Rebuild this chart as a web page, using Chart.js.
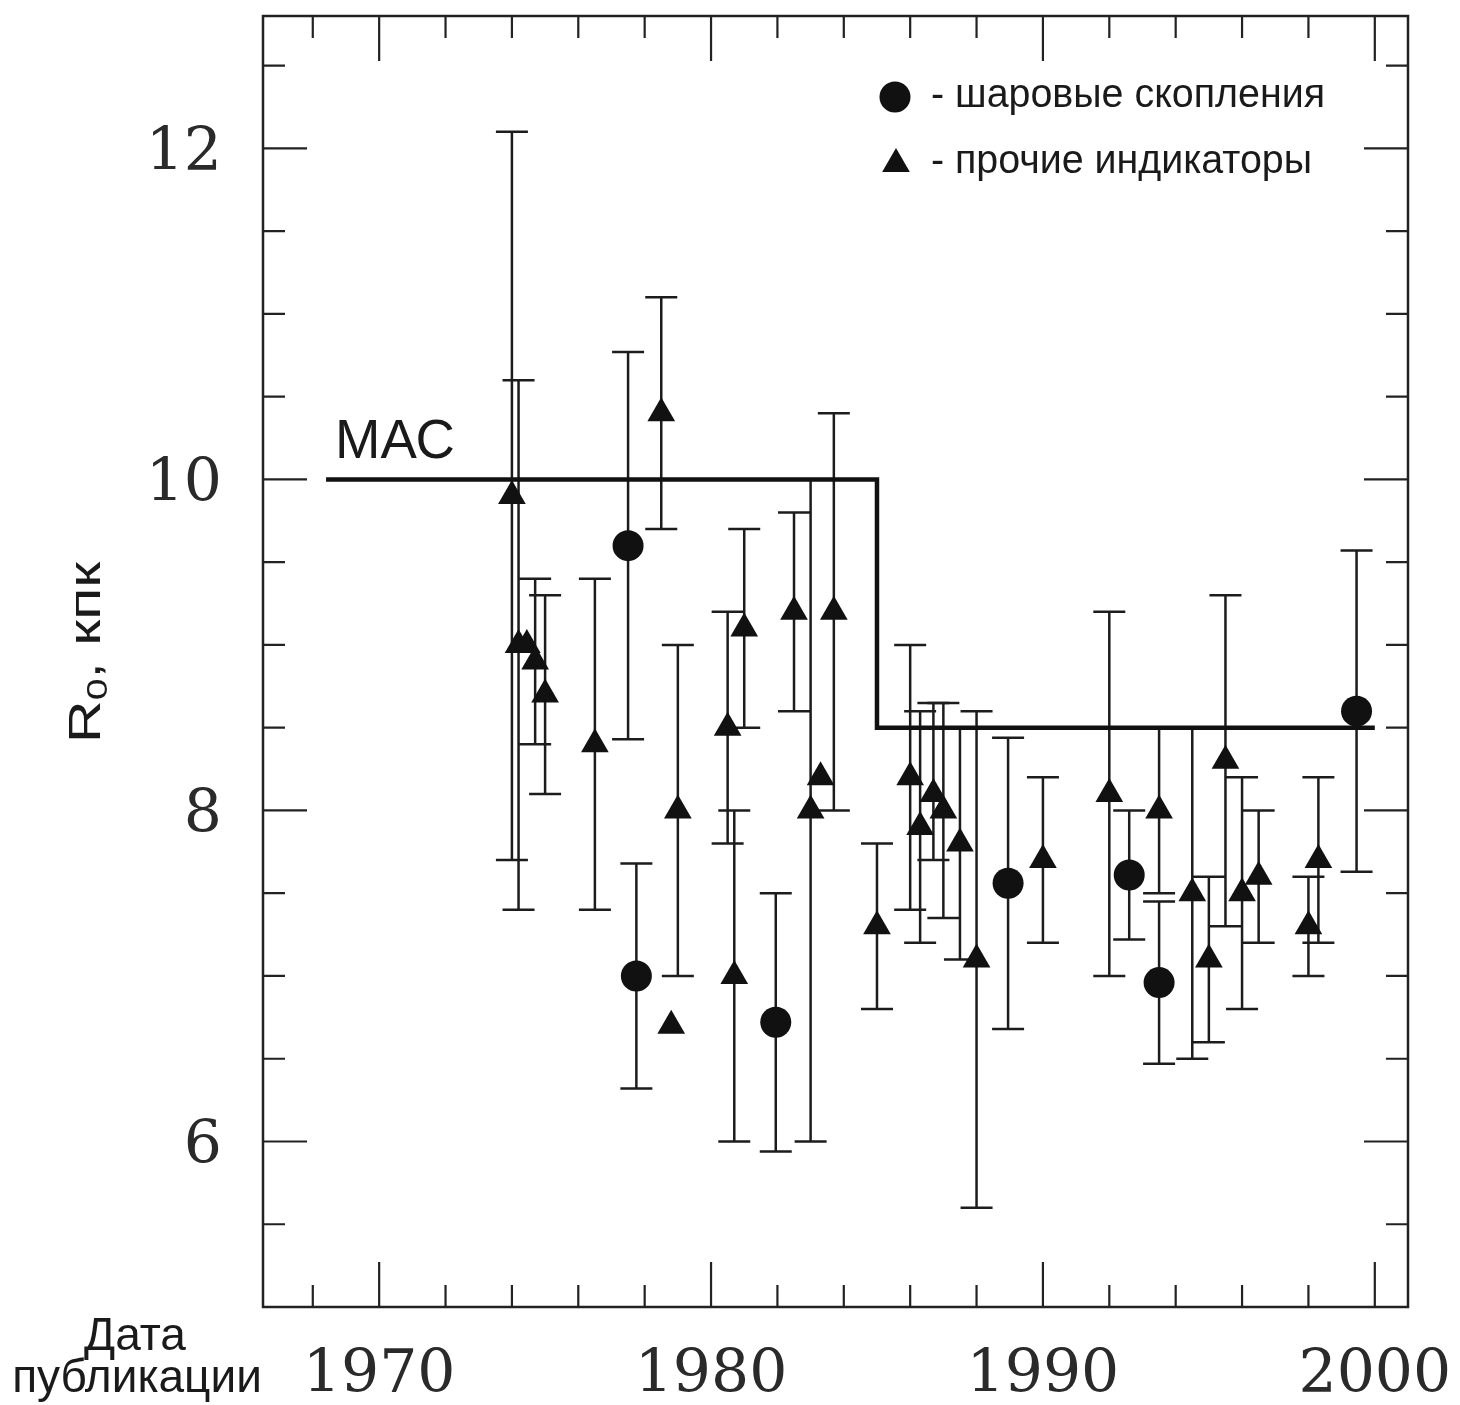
<!DOCTYPE html>
<html>
<head>
<meta charset="utf-8">
<script src="https://cdn.jsdelivr.net/npm/chart.js@4.4.0/dist/chart.umd.min.js"></script>
<style>
html, body { margin: 0; padding: 0; background: #fff; }
</style>
</head>
<body>
<canvas id="r0Chart" width="1460" height="1405"></canvas>
<script>

// globular clusters: year of publication, R0 and error bar ends (kpc)
var gcYear = [1977.5, 1977.75, 1981.95, 1988.95, 1992.6, 1993.5, 1999.45];
var gcR0   = [9.6, 7.0, 6.72, 7.56, 7.61, 6.96, 8.6];
var gcLow  = [8.43, 6.32, 5.94, 6.68, 7.22, 6.47, 7.63];
var gcHigh = [10.77, 7.68, 7.5, 8.44, 8.0, 7.45, 9.57];

// other indicators (null = no error bar)
var otYear = [1974.0, 1974.2, 1974.45, 1974.7, 1975.0, 1976.5, 1978.5, 1978.8, 1979.0,
              1980.5, 1980.7, 1981.0, 1982.5, 1983.0, 1983.3, 1983.7, 1985.0, 1986.0,
              1986.3, 1986.7, 1987.0, 1987.5, 1988.0, 1990.0, 1992.0, 1993.5, 1994.5,
              1995.0, 1995.5, 1996.0, 1996.5, 1998.0, 1998.3];
var otR0   = [9.9, 9.0, 9.0, 8.9, 8.7, 8.4, 10.4, 6.7, 8.0,
              8.5, 7.0, 9.1, 9.2, 8.0, 8.2, 9.2, 7.3, 8.2,
              7.9, 8.1, 8.0, 7.8, 7.1, 7.7, 8.1, 8.0, 7.5,
              7.1, 8.3, 7.5, 7.6, 7.3, 7.7];
var otLow  = [7.7, 7.4, null, 8.4, 8.1, 7.4, 9.7, null, 7.0,
              7.8, 6.0, 8.5, 8.6, 6.0, null, 8.0, 6.8, 7.4,
              7.2, 7.7, 7.35, 7.1, 5.6, 7.2, 7.0, 7.5, 6.5,
              6.6, 7.3, 6.8, 7.2, 7.0, 7.2];
var otHigh = [12.1, 10.6, null, 9.4, 9.3, 9.4, 11.1, null, 9.0,
              9.2, 8.0, 9.7, 9.8, 10.0, null, 10.4, 7.8, 9.0,
              8.6, 8.65, 8.65, 8.5, 8.6, 8.2, 9.2, 8.5, 8.5,
              7.6, 9.3, 8.2, 8.0, 7.6, 8.2];

// IAU recommended value
var iauYear = [1968.4, 1985.0, 1985.0, 2000.0];
var iauR0   = [10, 10, 8.5, 8.5];

var xTicks = [1970, 1980, 1990, 2000];
var yTicks = [6, 8, 10, 12];
var xMinorStep = 2;
var yMinorStep = 0.5;

function pts(xs, ys) {
  var out = [];
  for (var i = 0; i < xs.length; i++) out.push({x: xs[i], y: ys[i]});
  return out;
}

// draw text squeezed/stretched to a given width
function fitText(c, text, x, y, width) {
  var w = c.measureText(text).width;
  c.save();
  c.translate(x, y);
  c.scale(width / w, 1);
  c.fillText(text, 0, 0);
  c.restore();
}

function errBars(c, xs, ys, year, lo, hi) {
  for (var i = 0; i < year.length; i++) {
    if (lo[i] == null) continue;
    var px = xs.getPixelForValue(year[i]);
    var y1 = ys.getPixelForValue(lo[i]);
    var y2 = ys.getPixelForValue(hi[i]);
    c.beginPath();
    c.moveTo(px, y1); c.lineTo(px, y2);
    c.moveTo(px - 16, y1); c.lineTo(px + 16, y1);
    c.moveTo(px - 16, y2); c.lineTo(px + 16, y2);
    c.stroke();
  }
}

var framePlugin = {
  id: 'framePlugin',
  beforeDraw: function(chart) {
    var c = chart.ctx;
    c.save();
    c.fillStyle = '#fff';
    c.fillRect(0, 0, chart.width, chart.height);
    c.restore();
  },
  beforeDatasetsDraw: function(chart) {
    var c = chart.ctx, xs = chart.scales.x, ys = chart.scales.y;
    c.save();
    c.strokeStyle = '#1c1c1c';
    c.lineWidth = 2.5;
    errBars(c, xs, ys, gcYear, gcLow, gcHigh);
    errBars(c, xs, ys, otYear, otLow, otHigh);
    c.restore();
  },
  afterDraw: function(chart) {
    var c = chart.ctx, xs = chart.scales.x, ys = chart.scales.y;
    var a = chart.chartArea;
    c.save();
    c.strokeStyle = '#222';
    c.lineWidth = 2.5;
    c.strokeRect(a.left, a.top, a.right - a.left, a.bottom - a.top);

    // inward ticks on all four sides
    c.lineWidth = 2.2;
    c.beginPath();
    for (var k = 0; ; k++) {
      var yr = 1968 + k * xMinorStep;
      if (yr > xs.max) break;
      var px = xs.getPixelForValue(yr);
      var len = xTicks.indexOf(yr) >= 0 ? 45 : 22;
      c.moveTo(px, a.bottom); c.lineTo(px, a.bottom - len);
      c.moveTo(px, a.top); c.lineTo(px, a.top + len);
    }
    for (var j = 1; ; j++) {
      var v = 5 + j * yMinorStep;
      if (v >= ys.max) break;
      var py = ys.getPixelForValue(v);
      var ylen = yTicks.indexOf(v) >= 0 ? 44 : 22;
      c.moveTo(a.left, py); c.lineTo(a.left + ylen, py);
      c.moveTo(a.right, py); c.lineTo(a.right - ylen, py);
    }
    c.stroke();

    // tick labels
    c.fillStyle = '#2a2a2a';
    c.font = '60px "DejaVu Serif"';
    c.textBaseline = 'alphabetic';
    c.textAlign = 'center';
    xTicks.forEach(function(t) {
      c.fillText(String(t), xs.getPixelForValue(t), 1392);
    });
    c.textAlign = 'right';
    yTicks.forEach(function(t) {
      c.fillText(String(t), 222, ys.getPixelForValue(t) + 22);
    });

    // axis titles
    c.fillStyle = '#1a1a1a';
    c.textAlign = 'left';
    c.save();
    c.translate(100, 743);
    c.rotate(-Math.PI / 2);
    c.font = '45px "Liberation Sans"';
    var wR = c.measureText('R').width;
    var rest = ', кпк';
    var wRest = c.measureText(rest).width;
    c.font = '30px "Liberation Sans"';
    var w0 = c.measureText('0').width;
    var s = 181 / (wR + w0 + wRest);
    c.scale(s, 1);
    c.font = '45px "Liberation Sans"';
    c.fillText('R', 0, 0);
    c.font = '30px "Liberation Sans"';
    c.fillText('0', wR, 7);
    c.font = '45px "Liberation Sans"';
    c.fillText(rest, wR + w0, 0);
    c.restore();

    c.textAlign = 'center';
    c.font = '46px "Liberation Sans"';
    c.fillText('Дата', 135, 1350);
    c.fillText('публикации', 137, 1392);

    // IAU label
    c.textAlign = 'left';
    c.font = '56px "Liberation Sans"';
    fitText(c, 'МАС', 335, 458, 120);

    // legend
    c.fillStyle = '#111';
    c.beginPath();
    c.arc(895, 97, 15.5, 0, Math.PI * 2);
    c.fill();
    var tr = 16, tx = 896, ty = 164;
    c.beginPath();
    c.moveTo(tx, ty - tr);
    c.lineTo(tx + tr * Math.sin(Math.PI * 2 / 3), ty + tr / 2);
    c.lineTo(tx - tr * Math.sin(Math.PI * 2 / 3), ty + tr / 2);
    c.closePath();
    c.fill();
    c.fillStyle = '#1a1a1a';
    c.font = '40px "Liberation Sans"';
    fitText(c, '- шаровые скопления', 931, 107, 394);
    fitText(c, '- прочие индикаторы', 931, 173, 381);
    c.restore();
  }
};

var ctx = document.getElementById('r0Chart').getContext('2d');

var r0Chart = new Chart(ctx, {
  type: 'scatter',
  data: {
    datasets: [
      {
        label: 'МАС',
        type: 'line',
        data: pts(iauYear, iauR0),
        borderColor: '#111',
        borderWidth: 4.5,
        borderCapStyle: 'butt',
        borderJoinStyle: 'miter',
        pointRadius: 0,
        fill: false,
        tension: 0
      },
      {
        label: 'шаровые скопления',
        data: pts(gcYear, gcR0),
        pointStyle: 'circle',
        pointRadius: 15.5,
        pointBackgroundColor: '#111',
        pointBorderWidth: 0
      },
      {
        label: 'прочие индикаторы',
        data: pts(otYear, otR0),
        pointStyle: 'triangle',
        pointRadius: 16,
        pointBackgroundColor: '#111',
        pointBorderWidth: 0
      }
    ]
  },
  options: {
    responsive: false,
    animation: false,
    devicePixelRatio: 1,
    layout: { padding: { left: 263, right: 52, top: 10, bottom: 98 } },
    plugins: { legend: { display: false }, tooltip: { enabled: false } },
    scales: {
      x: { type: 'linear', min: 1966.5, max: 2001, display: false },
      y: { type: 'linear', min: 5.0, max: 12.8, display: false }
    }
  },
  plugins: [framePlugin]
});
</script>
</body>
</html>
